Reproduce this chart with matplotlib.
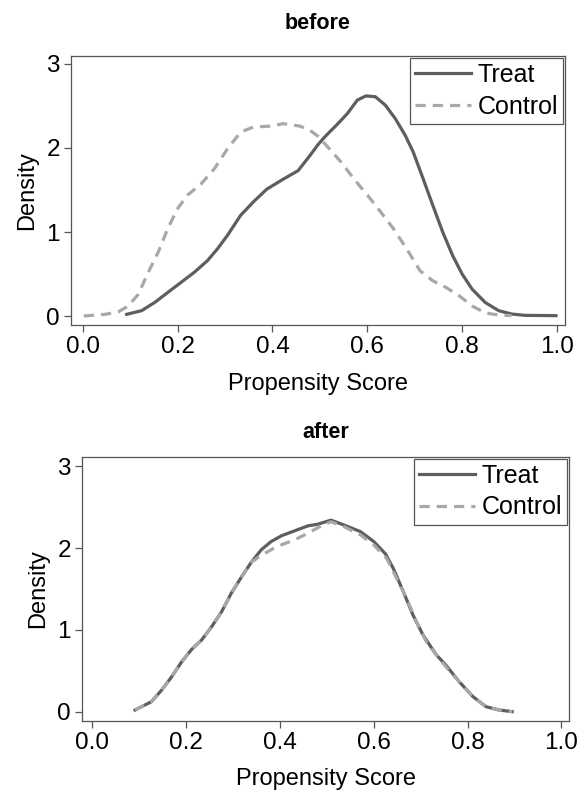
import matplotlib
matplotlib.use("Agg")
import matplotlib.pyplot as plt

plt.rcParams['font.family'] = ['Liberation Sans', 'DejaVu Sans']

# before matching
before_treat_x = [0.0925, 0.124, 0.152, 0.179, 0.207, 0.235, 0.263, 0.284, 0.305, 0.333, 0.36, 0.388,
                  0.423, 0.454, 0.479, 0.496, 0.51, 0.538, 0.558, 0.579, 0.597, 0.617, 0.638, 0.659,
                  0.68, 0.697, 0.718, 0.738, 0.759, 0.78, 0.8, 0.821, 0.849, 0.877, 0.904, 0.932, 0.998]
before_treat_y = [0.02, 0.064, 0.163, 0.28, 0.40, 0.52, 0.66, 0.80, 0.96, 1.20, 1.36, 1.51,
                  1.63, 1.73, 1.91, 2.04, 2.13, 2.29, 2.41, 2.57, 2.62, 2.61, 2.51, 2.35,
                  2.15, 1.95, 1.63, 1.32, 1.0, 0.72, 0.50, 0.32, 0.16, 0.064, 0.024, 0.008, 0.004]
before_ctrl_x = [0.002, 0.047, 0.075, 0.096, 0.117, 0.138, 0.159, 0.179, 0.2, 0.221, 0.249, 0.277,
                 0.305, 0.333, 0.36, 0.395, 0.423, 0.458, 0.479, 0.496, 0.517, 0.545, 0.572, 0.6,
                 0.628, 0.655, 0.683, 0.711, 0.738, 0.766, 0.794, 0.821, 0.849, 0.877, 0.904]
before_ctrl_y = [0.0, 0.02, 0.05, 0.12, 0.26, 0.52, 0.76, 1.04, 1.28, 1.44, 1.57, 1.75,
                 1.99, 2.19, 2.25, 2.26, 2.29, 2.26, 2.21, 2.14, 2.01, 1.83, 1.63, 1.44,
                 1.24, 1.04, 0.80, 0.54, 0.42, 0.34, 0.24, 0.12, 0.036, 0.012, 0.004]

# after matching
after_treat_x = [0.092, 0.127, 0.149, 0.17, 0.191, 0.212, 0.234, 0.255, 0.276, 0.297, 0.319, 0.34,
                 0.361, 0.382, 0.404, 0.432, 0.46, 0.481, 0.509, 0.537, 0.572, 0.6, 0.625, 0.642,
                 0.663, 0.684, 0.705, 0.733, 0.754, 0.782, 0.811, 0.839, 0.867, 0.895]
after_treat_y = [0.024, 0.126, 0.27, 0.43, 0.61, 0.76, 0.88, 1.04, 1.22, 1.45, 1.65, 1.83,
                 1.98, 2.08, 2.15, 2.21, 2.27, 2.29, 2.34, 2.28, 2.20, 2.08, 1.93, 1.75,
                 1.47, 1.18, 0.94, 0.70, 0.57, 0.37, 0.19, 0.065, 0.024, 0.004]
after_ctrl_x = [0.092, 0.127, 0.149, 0.17, 0.191, 0.212, 0.234, 0.255, 0.276, 0.297, 0.319, 0.34,
                0.361, 0.382, 0.404, 0.432, 0.46, 0.488, 0.509, 0.537, 0.572, 0.6, 0.628, 0.649,
                0.67, 0.691, 0.712, 0.733, 0.754, 0.782, 0.811, 0.839, 0.867, 0.895]
after_ctrl_y = [0.024, 0.126, 0.27, 0.43, 0.61, 0.76, 0.88, 1.04, 1.22, 1.45, 1.65, 1.83,
                1.91, 1.98, 2.04, 2.10, 2.18, 2.27, 2.32, 2.26, 2.16, 2.04, 1.87, 1.63,
                1.39, 1.10, 0.86, 0.70, 0.55, 0.37, 0.19, 0.065, 0.024, 0.004]

x_ticks = [0.0, 0.2, 0.4, 0.6, 0.8, 1.0]
x_ticklabels = ['0.0', '0.2', '0.4', '0.6', '0.8', '1.0']
y_ticks = [0, 1, 2, 3]
y_ticklabels = ['0', '1', '2', '3']

TREAT_C = '#5e5e5e'
CTRL_C = '#a8a8a8'

fig = plt.figure(figsize=(5.78, 7.9), dpi=100)

panels = [
    ('before', [71/578, 1 - 325/790, (565 - 71)/578, (325 - 56)/790],
     (before_treat_x, before_treat_y), (before_ctrl_x, before_ctrl_y), (-0.025, 1.017), (-0.107, 3.095),
     19.5, 11),
    ('after', [82/578, 1 - 721/790, (569 - 82)/578, (721 - 457)/790],
     (after_treat_x, after_treat_y), (after_ctrl_x, after_ctrl_y), (-0.021, 1.016), (-0.11, 3.11),
     14, 10),
]

for title, rect, tr, ct, xl, yl, tpad, xlpad in panels:
    ax = fig.add_axes(rect)
    ax.plot(tr[0], tr[1], color=TREAT_C, lw=2.3, label='Treat', solid_joinstyle='round')
    ax.plot(ct[0], ct[1], color=CTRL_C, lw=2.3, ls=(0, (3.2, 2.2)), label='Control')
    ax.set_xlim(*xl)
    ax.set_ylim(*yl)
    ax.set_xticks(x_ticks)
    ax.set_xticklabels(x_ticklabels)
    ax.set_yticks(y_ticks)
    ax.set_yticklabels(y_ticklabels)
    ax.tick_params(axis='both', direction='out', length=5, width=0.9, color='#555555',
                   labelsize=17.5, pad=3)
    for s in ax.spines.values():
        s.set_color('#555555')
        s.set_linewidth(0.9)
    ax.set_title(title, fontsize=15.5, fontweight='bold', pad=tpad)
    ax.set_xlabel('Propensity Score', fontsize=17, labelpad=xlpad)
    ax.set_ylabel('Density', fontsize=17, labelpad=6)
    leg = ax.legend(loc='upper right', fontsize=18, handlelength=2.25, handletextpad=0.25,
                    borderpad=0.2, labelspacing=0.3, fancybox=False, framealpha=1,
                    borderaxespad=0.08)
    leg.get_frame().set_edgecolor('#555555')
    leg.get_frame().set_linewidth(0.9)

fig.savefig('out.png', dpi=100)
